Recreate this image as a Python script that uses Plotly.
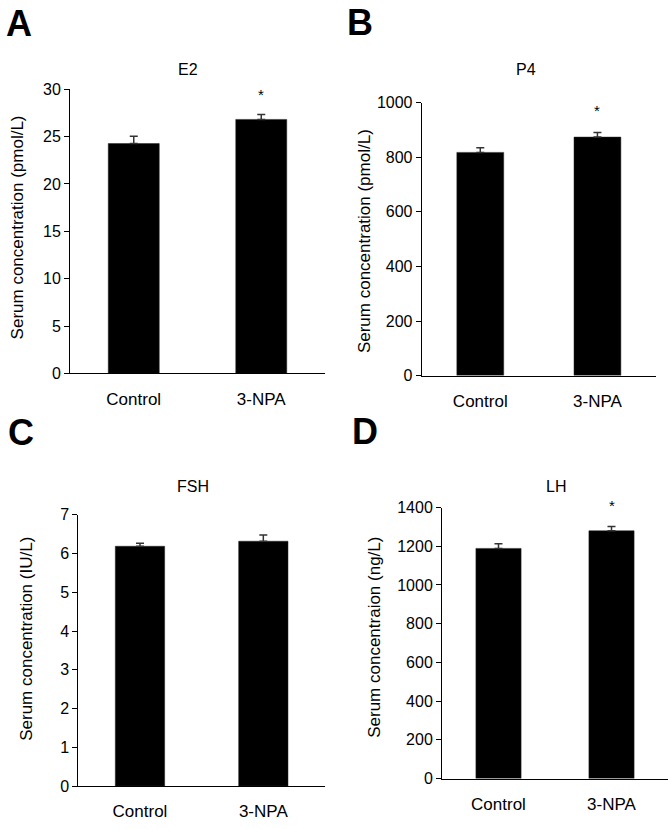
import plotly.graph_objects as go

W, H = 672, 829

categories = ["Control", "3-NPA"]

e2_mean = [24.27, 26.82]
e2_err = [0.76, 0.53]
p4_mean = [818, 874]
p4_err = [17, 17]
fsh_mean = [6.19, 6.32]
fsh_err = [0.08, 0.16]
lh_mean = [1189, 1280]
lh_err = [24, 22]

titles = ["E2", "P4", "FSH", "LH"]
letters = ["A", "B", "C", "D"]
ylabels = ["Serum concentration (pmol/L)", "Serum concentration (pmol/L)",
           "Serum concentration (IU/L)", "Serum concentraion (ng/L)"]
yranges = [[0, 30], [0, 1000], [0, 7], [0, 1400]]
ydticks = [5, 200, 1, 200]
stars = [[False, True], [False, True], [False, False], [False, True]]
star_y = [29.1, 959, None, 1396]

means = [e2_mean, p4_mean, fsh_mean, lh_mean]
errs = [e2_err, p4_err, fsh_err, lh_err]

# pixel layout of each panel: x0, x1, ytop, ybottom
panels = [
    (70, 325, 83, 373),
    (421.7, 656, 96.7, 375.3),
    (78.3, 325, 517.5, 794.3),
    (442, 668, 510, 786.7),
]
title_pos = [(188, 63), (526, 63), (193, 489), (556, 489)]
letter_pos = [(19, 16), (360, 15), (21, 433), (365, 432)]
ylabel_pos = [(17, 224), (364, 238), (27, 644), (375, 643)]

FONT = "Liberation Sans, Arial, sans-serif"

fig = go.Figure()
annotations = []
layout = {}
for i in range(4):
    x0, x1, yt, yb = panels[i]
    sfx = "" if i == 0 else str(i + 1)
    xa = "x" + sfx
    ya = "y" + sfx
    fig.add_trace(go.Bar(
        x=categories, y=means[i], width=0.4,
        marker=dict(color="black", line=dict(color="#222", width=0.5)),
        error_y=dict(type="data", symmetric=False, array=errs[i], arrayminus=[0, 0],
                     color="#333", thickness=1.5, width=4),
        xaxis=xa, yaxis=ya, showlegend=False,
    ))
    layout["xaxis" + sfx] = dict(
        domain=[x0 / W, x1 / W], anchor=ya, range=[-0.5, 1.5],
        showline=True, linecolor="black", linewidth=1,
        ticks="outside", ticklen=10, tickcolor="rgba(0,0,0,0)",
        tickfont=dict(size=17, color="black", family=FONT),
        showgrid=False, zeroline=False, fixedrange=True,
    )
    layout["yaxis" + sfx] = dict(
        domain=[1 - yb / H, 1 - yt / H], anchor=xa, range=yranges[i],
        dtick=ydticks[i], tick0=0,
        showline=True, linecolor="black", linewidth=1,
        ticks="outside", ticklen=5, tickcolor="black",
        tickfont=dict(size=16, color="black", family=FONT),
        showgrid=False, zeroline=False, fixedrange=True,
    )
    tx, ty = title_pos[i]
    annotations.append(dict(text=titles[i], x=tx / W, y=1 - ty / H, xref="paper", yref="paper",
                            showarrow=False, xanchor="center", yanchor="middle",
                            font=dict(size=16, color="black", family=FONT)))
    lx, ly = letter_pos[i]
    annotations.append(dict(text="<b>" + letters[i] + "</b>", x=lx / W, y=1 - ly / H,
                            xref="paper", yref="paper", showarrow=False,
                            xanchor="center", yanchor="middle",
                            font=dict(size=36, color="black", family=FONT)))
    yx, yy = ylabel_pos[i]
    annotations.append(dict(text=ylabels[i], x=yx / W, y=1 - yy / H, xref="paper", yref="paper",
                            showarrow=False, xanchor="center", yanchor="middle", textangle=-90,
                            font=dict(size=17, color="black", family=FONT)))
    for j, s in enumerate(stars[i]):
        if s:
            annotations.append(dict(text="*", x=categories[j], y=star_y[i], xref=xa, yref=ya,
                                    showarrow=False, xanchor="center", yanchor="middle",
                                    yshift=3,
                                    font=dict(size=15, color="black", family=FONT)))

fig.update_layout(
    width=W, height=H, margin=dict(l=0, r=0, t=0, b=0),
    paper_bgcolor="white", plot_bgcolor="white",
    annotations=annotations, **layout,
)
fig.write_html("out.html", config={"displayModeBar": False},
               post_script="document.body.style.margin='0px';")
